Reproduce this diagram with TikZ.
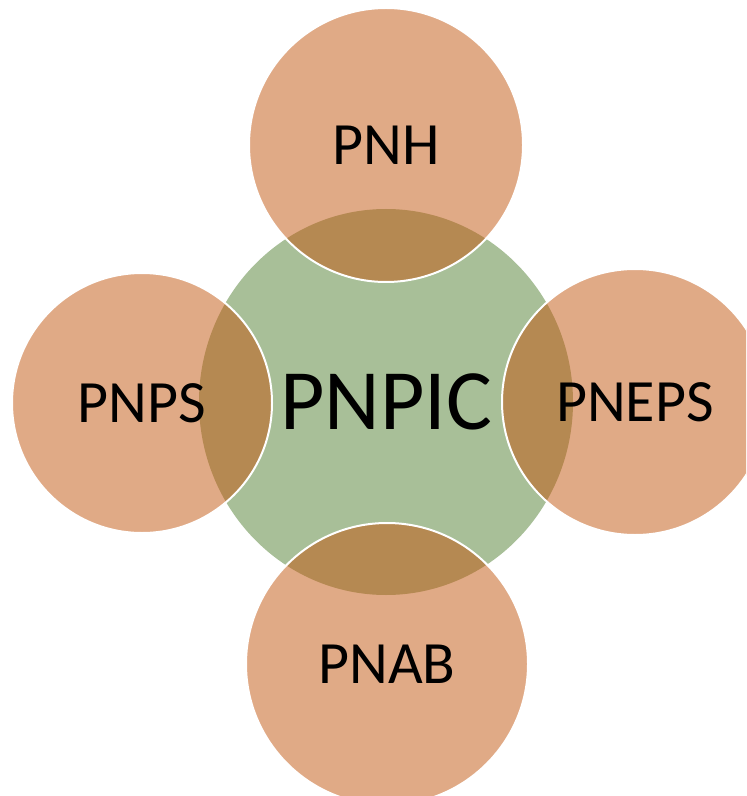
\documentclass[tikz,border=0pt]{standalone}
\usepackage{fontspec}
\setmainfont{Carlito}
\usetikzlibrary{shapes.geometric}
\definecolor{petalorange}{RGB}{194,85,14}
\definecolor{coregreen}{RGB}{168,191,152}

\begin{document}
\begin{tikzpicture}[x=0.5pt, y=-0.5pt,
    petal/.style={circle, draw=white, line width=1pt, fill=petalorange, fill opacity=0.5, text opacity=1, inner sep=0pt, font=\fontsize{30}{36}\selectfont},
    core/.style={ellipse, fill=coregreen, inner sep=0pt, minimum width=187pt, minimum height=193pt, font=\fontsize{43}{50}\selectfont}]
        \clip (0,0) rectangle (746,796);
        \node (pnpic) [core] at (386,402) {PNPIC};
        \node (pnh) [petal, minimum size=137pt] at (386,145) {PNH};
        \node (pnps) [petal, minimum size=130pt] at (142,403) {PNPS};
        \node (pneps) [petal, minimum size=133pt] at (635,402) {PNEPS};
        \node (pnab) [petal, minimum size=141pt] at (387,664) {PNAB};
    \end{tikzpicture}
\end{document}
